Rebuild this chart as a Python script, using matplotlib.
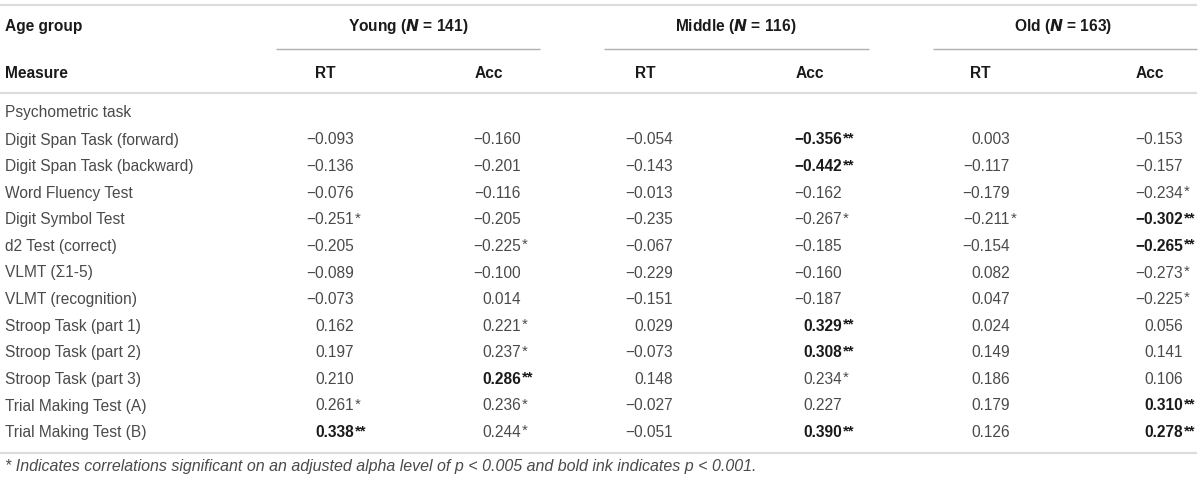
import matplotlib
matplotlib.use("Agg")
import matplotlib.pyplot as plt

# table content
groups = ["Young", "Middle", "Old"]
group_n = [141, 116, 163]
measures = [
    "Digit Span Task (forward)", "Digit Span Task (backward)", "Word Fluency Test",
    "Digit Symbol Test", "d2 Test (correct)", "VLMT (\u03a31-5)", "VLMT (recognition)",
    "Stroop Task (part 1)", "Stroop Task (part 2)", "Stroop Task (part 3)",
    "Trial Making Test (A)", "Trial Making Test (B)",
]
young_rt = [-0.093, -0.136, -0.076, -0.251, -0.205, -0.089, -0.073, 0.162, 0.197, 0.210, 0.261, 0.338]
young_acc = [-0.160, -0.201, -0.116, -0.205, -0.225, -0.100, 0.014, 0.221, 0.237, 0.286, 0.236, 0.244]
middle_rt = [-0.054, -0.143, -0.013, -0.235, -0.067, -0.229, -0.151, 0.029, -0.073, 0.148, -0.027, -0.051]
middle_acc = [-0.356, -0.442, -0.162, -0.267, -0.185, -0.160, -0.187, 0.329, 0.308, 0.234, 0.227, 0.390]
old_rt = [0.003, -0.117, -0.179, -0.211, -0.154, 0.082, 0.047, 0.024, 0.149, 0.186, 0.179, 0.126]
old_acc = [-0.153, -0.157, -0.234, -0.302, -0.265, -0.273, -0.225, 0.056, 0.141, 0.106, 0.310, 0.278]
# significance: 0 none, 1 = p<0.005 (*), 2 = p<0.001 (bold **)
young_rt_sig = [0, 0, 0, 1, 0, 0, 0, 0, 0, 0, 1, 2]
young_acc_sig = [0, 0, 0, 0, 1, 0, 0, 1, 1, 2, 1, 1]
middle_rt_sig = [0] * 12
middle_acc_sig = [2, 2, 0, 1, 0, 0, 0, 2, 2, 1, 0, 2]
old_rt_sig = [0, 0, 0, 1, 0, 0, 0, 0, 0, 0, 0, 0]
old_acc_sig = [0, 0, 1, 2, 2, 1, 1, 0, 0, 0, 2, 2]

columns = [young_rt, young_acc, middle_rt, middle_acc, old_rt, old_acc]
sigs = [young_rt_sig, young_acc_sig, middle_rt_sig, middle_acc_sig, old_rt_sig, old_acc_sig]

plt.rcParams["font.family"] = ["Liberation Sans", "DejaVu Sans"]

fig = plt.figure(figsize=(12, 4.83), dpi=100)
ax = fig.add_axes([0, 0, 1, 1])
ax.set_xlim(0, 1200)
ax.set_ylim(483, 0)
ax.axis("off")

fs = 11.2
body_col = "#4a4a4a"
head_col = "#1a1a1a"
rule_col = "#dcdcdc"

head_x = [325, 489, 645, 810, 980, 1150]
num_end = [354, 521, 673, 842, 1010, 1183]
group_x = [408, 736, 1063]
group_lines = [(276, 540), (604, 869), (933, 1197)]

# rules
ax.plot([0, 1197], [5, 5], color=rule_col, lw=1.6, solid_capstyle="butt")
ax.plot([0, 1197], [92.5, 92.5], color=rule_col, lw=1.6, solid_capstyle="butt")
ax.plot([0, 1197], [453, 453], color=rule_col, lw=1.6, solid_capstyle="butt")
for x0, x1 in group_lines:
    ax.plot([x0, x1], [49, 49], color="#b0b0b0", lw=1.0, solid_capstyle="butt")

# header
ax.text(5, 27, "Age group", fontsize=fs, fontweight="bold", color=head_col, va="center")
ax.text(5, 73, "Measure", fontsize=fs, fontweight="bold", color=head_col, va="center")
for g, n, x in zip(groups, group_n, group_x):
    ax.text(x, 27, f"{g} ($\\bfit{{N}}$ = {n})", fontsize=fs, fontweight="bold",
            color=head_col, ha="center", va="center")
for i, x in enumerate(head_x):
    ax.text(x, 73, "RT" if i % 2 == 0 else "Acc", fontsize=fs, fontweight="bold",
            color=head_col, ha="center", va="center")

# body
ax.text(5, 113, "Psychometric task", fontsize=fs, color=body_col, va="center")
row_y0, row_dy = 140, 26.6
for r, name in enumerate(measures):
    y = row_y0 + r * row_dy
    ax.text(5, y, name, fontsize=fs, color=body_col, va="center")
    for c in range(6):
        v = columns[c][r]
        s = sigs[c][r]
        txt = f"{v:.3f}".replace("-", "\u2212")
        w = "bold" if s == 2 else "normal"
        col = head_col if s == 2 else body_col
        ax.text(num_end[c], y, txt, fontsize=fs, fontweight=w, color=col, ha="right", va="center")
        if s:
            ax.text(num_end[c] + 0.5, y - 1.5, "*" * s, fontsize=fs - 0.5, fontweight=w,
                    color=col, ha="left", va="center")

ax.text(5, 467, "* Indicates correlations significant on an adjusted alpha level of p < 0.005 "
        "and bold ink indicates p < 0.001.", fontsize=11.5, style="italic",
        color=body_col, va="center")

fig.savefig("out.png", dpi=100)
